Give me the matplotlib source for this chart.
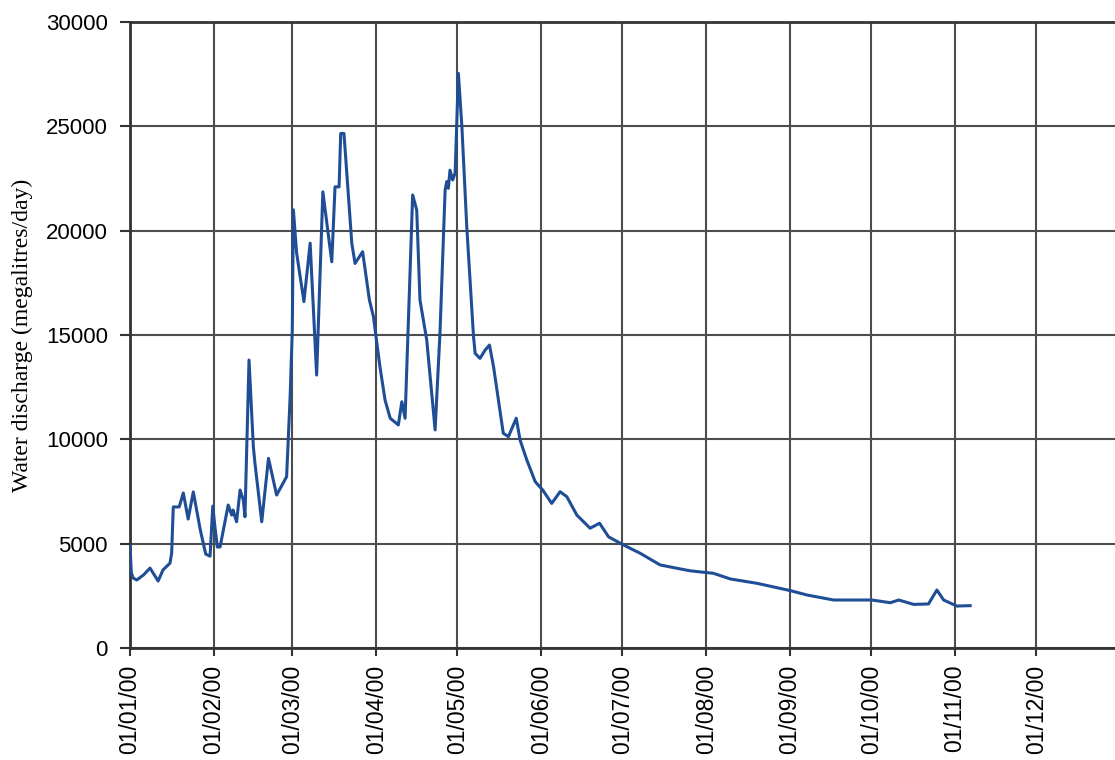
import matplotlib
matplotlib.use("Agg")
import matplotlib.pyplot as plt

# day of year 2000 (0 = 1 Jan) and discharge in megalitres/day
days = [0, 0.5, 1.2, 2.5, 5, 7.4, 10.4, 12.2, 14.8, 15.4, 16, 18.2, 19.7, 21.5,
        23.4, 26, 28, 29.6, 30.6, 31.4, 32.3, 33.3, 36.3, 37.6, 38.1, 39.4,
        40.7, 41.9, 42.5, 44, 45.6, 46.2, 48.7, 51.2, 54.2, 57.9, 59.2, 60,
        60.4, 61.6, 64.3, 66.6, 69, 71.3, 74.6, 75.8, 77.3, 77.9, 79.1, 82,
        83.2, 86, 88.5, 90, 92.4, 94.3, 96.2, 99.2, 100.5, 101.7, 104.5, 106,
        107.2, 109.7, 112.8, 114.6, 116.5, 117.1, 117.7, 118.3, 119.3, 120.2,
        121.4, 122.7, 124.5, 127, 127.6, 129.4, 131.3, 132.9, 134.4, 138,
        139.9, 142.8, 144.2, 146.7, 149.8, 152.6, 155.9, 159, 161.5, 165.2,
        170.1, 173.6, 176.9, 182.4, 188.6, 196, 203.4, 207.1, 212, 215.7,
        221.9, 231.8, 244.1, 250.3, 260.1, 274.3, 281.1, 284.2, 289.7, 295.2,
        298.3, 300.8, 305.7, 310.6]
discharge = [4900, 3600, 3350, 3260, 3500, 3830, 3210, 3740, 4070, 4550, 6760,
             6760, 7430, 6180, 7480, 5650, 4500, 4400, 6800, 5800, 4840, 4840,
             6850, 6370, 6610, 6050, 7570, 7090, 6290, 13800, 9650, 8850, 6050,
             9090, 7330, 8210, 12040, 15240, 21000, 18930, 16600, 19400, 13080,
             21860, 18510, 22100, 22100, 24660, 24660, 19390, 18430, 18990,
             16680, 15880, 13480, 11880, 11010, 10690, 11800, 11010, 21710,
             20990, 16680, 14760, 10450, 15100, 21950, 22350, 22030, 22900,
             22430, 22760, 27540, 24980, 20190, 14920, 14120, 13880, 14280,
             14520, 13480, 10290, 10130, 11010, 9970, 9010, 7970, 7570, 6930,
             7490, 7250, 6370, 5740, 5980, 5330, 4940, 4540, 3980, 3790, 3700,
             3630, 3580, 3310, 3100, 2750, 2540, 2300, 2300, 2170, 2300, 2090,
             2110, 2780, 2300, 2010, 2030]

month_days = [0, 31, 60, 91, 121, 152, 182, 213, 244, 274, 305, 335]
month_labels = ["01/01/00", "01/02/00", "01/03/00", "01/04/00", "01/05/00",
                "01/06/00", "01/07/00", "01/08/00", "01/09/00", "01/10/00",
                "01/11/00", "01/12/00"]
y_ticks = [0, 5000, 10000, 15000, 20000, 25000, 30000]

fig = plt.figure(figsize=(11.15, 7.6), dpi=100)
ax = fig.add_axes([130 / 1115, 112 / 760, 990 / 1115, 626 / 760])

ax.plot(days, discharge, color="#1f4e96", lw=2.2, zorder=3)

ax.set_xlim(0, 366)
ax.set_ylim(0, 30000)
ax.set_xticks(month_days)
ax.set_xticklabels(month_labels, rotation=90, family="Liberation Sans", fontsize=16.5)
ax.set_yticks(y_ticks)
ax.set_yticklabels([str(v) for v in y_ticks], family="Liberation Sans", fontsize=16)
ax.tick_params(axis="y", length=7, width=1.5, pad=9, color="#333333")
ax.tick_params(axis="x", length=6, width=1.5, pad=6, color="#333333")

ax.grid(True, color="#4d4d4d", lw=1.5)
ax.set_axisbelow(True)
for side in ["left", "bottom", "top"]:
    ax.spines[side].set_linewidth(2)
    ax.spines[side].set_color("#333333")
ax.spines["right"].set_visible(False)

ax.set_ylabel("Water discharge (megalitres/day)", family="Liberation Serif",
              fontsize=17)
ax.yaxis.set_label_coords(-97 / 990, 0.5)

fig.savefig("out.png", dpi=100)
